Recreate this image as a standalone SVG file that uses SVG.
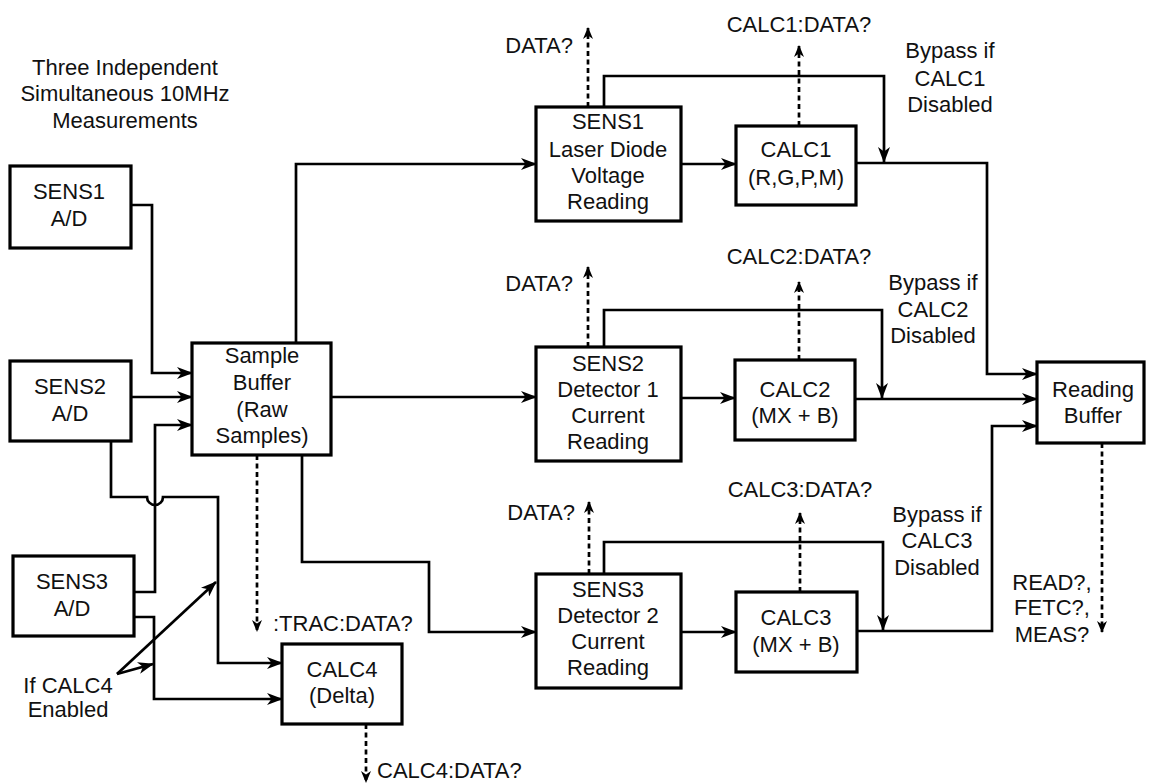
<svg xmlns="http://www.w3.org/2000/svg" width="1149" height="784" viewBox="0 0 1149 784">
<defs>
<style>
text{font-family:"Liberation Sans",Arial,sans-serif;font-size:22px;fill:#111;text-anchor:middle}
.l{text-anchor:start}
.e{text-anchor:end}
rect{fill:#fff;stroke:#000;stroke-width:3.2}
.c path{fill:none;stroke:#000;stroke-width:2.7}
.c path.a{marker-end:url(#ah)}
.c path.d{stroke-dasharray:5 3.5;marker-end:url(#dh)}
</style>
<marker id="ah" markerUnits="userSpaceOnUse" viewBox="0 0 16 12" refX="15" refY="6" markerWidth="16" markerHeight="12" orient="auto">
<path d="M0,0 L16,6 L0,12 L4.5,6 z" fill="#000"/>
</marker>
<marker id="dh" markerUnits="userSpaceOnUse" viewBox="0 0 12 10" refX="11" refY="5" markerWidth="12" markerHeight="10" orient="auto">
<path d="M0,0 L12,5 L0,10 L3.5,5 z" fill="#000"/>
</marker>
</defs>
<rect x="0" y="0" width="1149" height="784" style="fill:#fff;stroke:none"/>

<g id="title">
<text x="125" y="75">Three Independent</text>
<text x="125" y="101">Simultaneous 10MHz</text>
<text x="125" y="128">Measurements</text>
</g>

<g class="c" id="connectors">
<path class="a" d="M131,205 H152 V373 H192"/>
<path class="a" d="M131,397 H192"/>
<path class="a" d="M134,592 H155 V425 H192"/>
<path class="a" d="M111,441 V497 H147 A8,8 0 0 0 163,497 H218 V663 H282"/>
<path class="a" d="M134,617 H154 V699 H282"/>
<path class="a" d="M296,343 V164 H536"/>
<path class="a" d="M331,397 H536"/>
<path class="a" d="M302,455 V562 H429 V632 H536"/>
<path class="a" d="M681,164 H736"/>
<path class="a" d="M681,398 H735"/>
<path class="a" d="M681,632 H736"/>
<path class="a" d="M604,107 V76 H884 V162"/>
<path class="a" d="M604,347 V310 H882 V398"/>
<path class="a" d="M604,574 V542 H883 V630"/>
<path class="a" d="M856,163 H987 V374 H1037"/>
<path class="a" d="M855,399 H1037"/>
<path class="a" d="M857,631 H992 V426 H1037"/>
<path class="a" d="M117,674 L216,582"/>
<path class="a" d="M117,674 L153,664"/>
<path class="d" d="M588,107 V28"/>
<path class="d" d="M588,347 V267"/>
<path class="d" d="M589,574 V502"/>
<path class="d" d="M799,126 V46"/>
<path class="d" d="M799,360 V282"/>
<path class="d" d="M800,592 V513"/>
<path class="d" d="M257,455 V631"/>
<path class="d" d="M366,724 V782"/>
<path class="d" d="M1102,443 V632"/>
</g>

<g id="sens1ad"><rect x="10" y="166" width="121" height="82"/><text x="69" y="199">SENS1</text><text x="69" y="226">A/D</text></g>
<g id="sens2ad"><rect x="10" y="361" width="121" height="80"/><text x="70" y="394">SENS2</text><text x="70" y="421">A/D</text></g>
<g id="sens3ad"><rect x="13" y="556" width="121" height="80"/><text x="72" y="589">SENS3</text><text x="72" y="616">A/D</text></g>
<g id="ifcalc4"><text x="68" y="693">If CALC4</text><text x="68" y="717">Enabled</text></g>

<g id="samplebuffer"><rect x="192" y="343" width="139" height="112"/>
<text x="262" y="363">Sample</text><text x="262" y="390">Buffer</text><text x="262" y="417">(Raw</text><text x="262" y="443">Samples)</text></g>
<g id="tracdata"><text class="l" x="273" y="631">:TRAC:DATA?</text></g>

<g id="calc4"><rect x="282" y="644" width="120" height="80"/><text x="342" y="677">CALC4</text><text x="342" y="703">(Delta)</text></g>
<g id="calc4data"><text class="l" x="377" y="778">CALC4:DATA?</text></g>

<g id="sens1"><rect x="536" y="107" width="145" height="114"/>
<text x="608" y="129">SENS1</text><text x="608" y="157">Laser Diode</text><text x="608" y="183">Voltage</text><text x="608" y="209">Reading</text></g>
<g id="sens2"><rect x="536" y="347" width="145" height="114"/>
<text x="608" y="371">SENS2</text><text x="608" y="397">Detector 1</text><text x="608" y="423">Current</text><text x="608" y="449">Reading</text></g>
<g id="sens3"><rect x="536" y="574" width="145" height="114"/>
<text x="608" y="597">SENS3</text><text x="608" y="623">Detector 2</text><text x="608" y="649">Current</text><text x="608" y="675">Reading</text></g>

<g id="data1"><text class="e" x="573" y="53">DATA?</text></g>
<g id="data2"><text class="e" x="573" y="291">DATA?</text></g>
<g id="data3"><text class="e" x="575" y="520">DATA?</text></g>

<g id="calc1"><rect x="736" y="126" width="120" height="79"/><text x="796" y="157">CALC1</text><text x="796" y="185">(R,G,P,M)</text></g>
<g id="calc2"><rect x="735" y="360" width="120" height="80"/><text x="795" y="397">CALC2</text><text x="795" y="423">(MX + B)</text></g>
<g id="calc3"><rect x="736" y="592" width="121" height="80"/><text x="796" y="625">CALC3</text><text x="796" y="652">(MX + B)</text></g>

<g id="calc1data"><text x="799" y="32">CALC1:DATA?</text></g>
<g id="calc2data"><text x="799" y="264">CALC2:DATA?</text></g>
<g id="calc3data"><text x="800" y="497">CALC3:DATA?</text></g>

<g id="bypass1"><text x="950" y="58">Bypass if</text><text x="950" y="86">CALC1</text><text x="950" y="112">Disabled</text></g>
<g id="bypass2"><text x="933" y="290">Bypass if</text><text x="933" y="317">CALC2</text><text x="933" y="343">Disabled</text></g>
<g id="bypass3"><text x="937" y="522">Bypass if</text><text x="937" y="548">CALC3</text><text x="937" y="575">Disabled</text></g>

<g id="readingbuffer"><rect x="1037" y="362" width="107" height="81"/><text x="1093" y="397">Reading</text><text x="1093" y="423">Buffer</text></g>
<g id="readcmds"><text x="1052" y="590">READ?,</text><text x="1052" y="615">FETC?,</text><text x="1052" y="642">MEAS?</text></g>
</svg>
